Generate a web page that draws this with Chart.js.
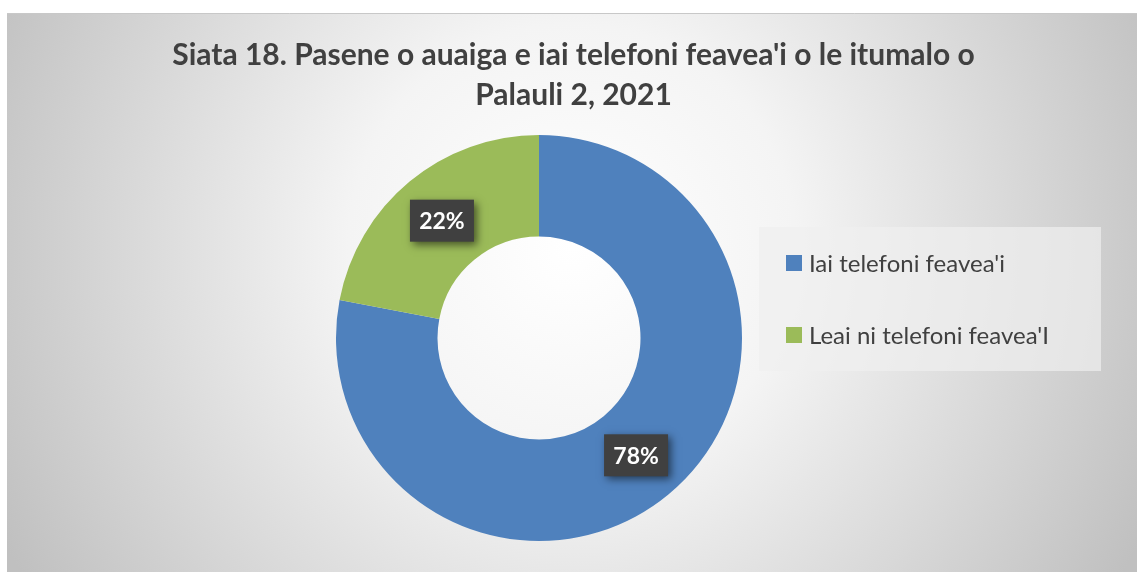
<!DOCTYPE html>
<html>
<head>
<meta charset="utf-8">
<script src="https://cdn.jsdelivr.net/npm/chart.js@4"></script>
<style>
  html, body { margin: 0; padding: 0; background: #fff; }
  #wrap { position: absolute; left: 7px; top: 13px; width: 1130px; height: 559px; }
</style>
</head>
<body>
<div id="wrap"><canvas id="pieChart" width="1130" height="559"></canvas></div>
<script>
// Data
var labels = ["Iai telefoni feavea'i", "Leai ni telefoni feavea'I"];
var values = [78, 22];
var sliceColors = ["#4F81BD", "#9BBB59"];
var titleLines = ["Siata 18. Pasene o auaiga e iai telefoni feavea'i o le itumalo o", "Palauli 2, 2021"];

var FONT = "Lato, 'Open Sans', sans-serif";

// radial background like the office chart area
var bgPlugin = {
    id: 'bg',
    afterLayout: function (chart) {
        // title is centred on the whole chart, not on the pie area
        if (chart.titleBlock) {
            chart.titleBlock.left = 0;
            chart.titleBlock.right = chart.width + 3;
        }
    },
    beforeDraw: function (chart) {
        var ctx = chart.ctx, w = chart.width, h = chart.height;
        ctx.save();
        var g = ctx.createRadialGradient(w / 2, h * 0.42, 0, w / 2, h * 0.42, 640);
        g.addColorStop(0, '#ffffff');
        g.addColorStop(0.35, '#f4f4f4');
        g.addColorStop(1, '#c0c0c0');
        ctx.fillStyle = g;
        ctx.fillRect(0, 0, w, h);
        ctx.strokeStyle = '#c8c8c8';
        ctx.beginPath();
        ctx.moveTo(0, 0.5);
        ctx.lineTo(w, 0.5);
        ctx.stroke();
        ctx.restore();
    }
};

// legend on the right, in a light box
var legendPlugin = {
    id: 'sideLegend',
    afterDraw: function (chart) {
        var ctx = chart.ctx;
        ctx.save();
        ctx.fillStyle = 'rgba(240,240,240,0.7)';
        ctx.fillRect(752, 214, 342, 144);
        ctx.font = '24px ' + FONT;
        ctx.textBaseline = 'middle';
        labels.forEach(function (lab, i) {
            var y = 250 + i * 72;
            ctx.fillStyle = sliceColors[i];
            ctx.fillRect(779, y - 8, 16, 16);
            ctx.fillStyle = '#404040';
            ctx.fillText(lab, 802, y + 1);
        });
        ctx.restore();
    }
};

// dark boxed percentage labels
var labelPlugin = {
    id: 'pctLabels',
    afterDatasetsDraw: function (chart) {
        var ctx = chart.ctx;
        var meta = chart.getDatasetMeta(0);
        var total = values.reduce(function (a, b) { return a + b; }, 0);
        meta.data.forEach(function (arc, i) {
            var p = arc.tooltipPosition();
            var txt = Math.round(values[i] / total * 100) + '%';
            ctx.save();
            ctx.shadowColor = 'rgba(0,0,0,0.55)';
            ctx.shadowBlur = 8;
            ctx.shadowOffsetX = 3;
            ctx.shadowOffsetY = 3;
            ctx.fillStyle = '#404040';
            ctx.fillRect(p.x - 32, p.y - 21, 64, 42);
            ctx.restore();
            ctx.save();
            ctx.fillStyle = '#ffffff';
            ctx.font = 'bold 23px ' + FONT;
            ctx.textAlign = 'center';
            ctx.textBaseline = 'middle';
            ctx.fillText(txt, p.x, p.y + 1);
            ctx.restore();
        });
    }
};

new Chart("pieChart", {
    type: "doughnut",
    data: {
        labels: labels,
        datasets: [{
            data: values,
            backgroundColor: sliceColors,
            borderWidth: 0
        }]
    },
    options: {
        responsive: false,
        animation: false,
        cutout: '50%',
        layout: {
            padding: { left: 0, right: 66, top: 0, bottom: 31 }
        },
        plugins: {
            legend: { display: false },
            tooltip: { enabled: false },
            title: {
                display: true,
                text: titleLines,
                color: '#404040',
                font: { family: FONT, size: 30, weight: 'bold', lineHeight: 1.333 },
                padding: { top: 22, bottom: 20 }
            }
        }
    },
    plugins: [bgPlugin, labelPlugin, legendPlugin]
});
</script>
</body>
</html>
